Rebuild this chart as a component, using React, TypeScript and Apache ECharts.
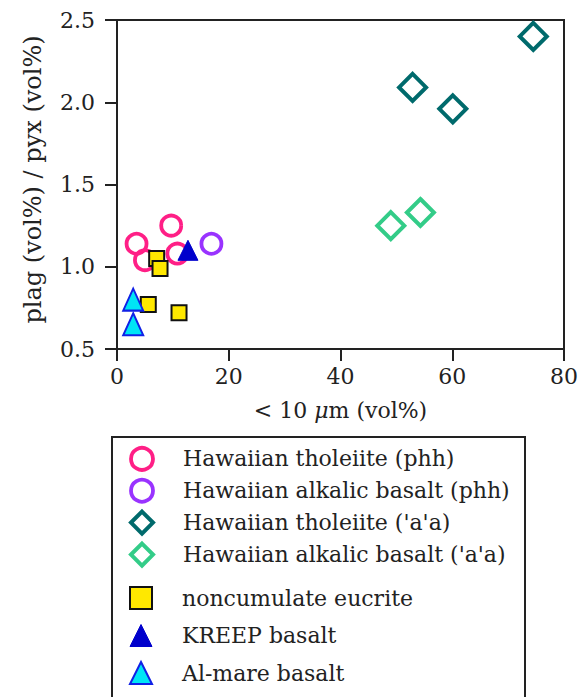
import React, { useEffect, useRef } from "react";
import * as echarts from "echarts";

// ---- data ----
const xTicks = [0, 20, 40, 60, 80];
const yTicks = [0.5, 1.0, 1.5, 2.0, 2.5];
const seriesNames = [
  "Hawaiian tholeiite (phh)",
  "Hawaiian alkalic basalt (phh)",
  "Hawaiian tholeiite ('a'a)",
  "Hawaiian alkalic basalt ('a'a)",
  "noncumulate eucrite",
  "KREEP basalt",
  "Al-mare basalt",
];
const tholeiitePhh = [[3.5, 1.14], [9.7, 1.25], [5.0, 1.04], [10.8, 1.08]];
const alkalicPhh = [[16.9, 1.14]];
const tholeiiteAa = [[74.5, 2.4], [52.9, 2.09], [60.1, 1.96]];
const alkalicAa = [[49.0, 1.25], [54.3, 1.33]];
const eucrite = [[7.1, 1.05], [7.7, 0.99], [5.6, 0.77], [11.1, 0.72]];
const kreep = [[12.7, 1.1]];
const alMare = [[2.9, 0.8], [2.9, 0.65]];

const FONT = "DejaVu Serif";
const TXT = "#222";

const styles = [
  { symbol: "circle", size: 20, color: "rgba(0,0,0,0)", border: "#ff1f86", bw: 3.8 },
  { symbol: "circle", size: 20, color: "rgba(0,0,0,0)", border: "#9933ff", bw: 3.8 },
  { symbol: "diamond", size: 27, color: "rgba(0,0,0,0)", border: "#006a6c", bw: 4 },
  { symbol: "diamond", size: 27, color: "rgba(0,0,0,0)", border: "#33cc88", bw: 4 },
  { symbol: "rect", size: 15, color: "#ffe800", border: "#111", bw: 2 },
  { symbol: "triangle", size: [20, 20], color: "#0000cc", border: "#0000cc", bw: 1 },
  { symbol: "triangle", size: [20, 22], color: "#00e5f5", border: "#1020e6", bw: 2 },
];
const seriesData = [tholeiitePhh, alkalicPhh, tholeiiteAa, alkalicAa, eucrite, kreep, alMare];

export default function App() {
  const ref = useRef<HTMLDivElement>(null);
  useEffect(() => {
    if (!ref.current) return;
    const chart = echarts.init(ref.current, null, { renderer: "svg" });
    const legendData = (names: string[], offset: number) =>
      names.map((n, i) => {
        const s = styles[offset + i];
        return {
          name: n,
          itemStyle: { color: s.color, borderColor: s.border, borderWidth: s.bw, opacity: 1 },
        };
      });
    const legendText = {
      fontFamily: FONT,
      fontSize: 22,
      color: TXT,
      lineHeight: 22,
      padding: [0, 0, 0, 25],
    };
    const option: any = {
      animation: false,
      backgroundColor: "#fff",
      grid: {
        left: 117,
        right: 15,
        top: 20,
        bottom: 348,
        show: true,
        borderColor: "#222",
        borderWidth: 2,
        containLabel: false,
      },
      xAxis: {
        type: "value",
        min: xTicks[0],
        max: xTicks[xTicks.length - 1],
        interval: 20,
        name: "< 10 {i|μ}m (vol%)",
        nameLocation: "middle",
        nameGap: 50,
        nameTextStyle: {
          fontFamily: FONT,
          fontSize: 22,
          color: TXT,
          rich: { i: { fontFamily: FONT, fontSize: 22, fontStyle: "italic", color: TXT } },
        },
        axisLine: { lineStyle: { color: "#222", width: 2 } },
        axisTick: { inside: false, length: 12, lineStyle: { color: "#222", width: 2 } },
        axisLabel: { fontFamily: FONT, fontSize: 22, color: TXT, margin: 16 },
        splitLine: { show: false },
      },
      yAxis: {
        type: "value",
        min: yTicks[0],
        max: yTicks[yTicks.length - 1],
        interval: 0.5,
        name: "plag (vol%) / pyx (vol%)",
        nameLocation: "middle",
        nameGap: 72,
        nameTextStyle: { fontFamily: FONT, fontSize: 24, color: TXT, padding: [0, 0, 0, 10] },
        axisLine: { lineStyle: { color: "#222", width: 2 } },
        axisTick: { inside: false, length: 12, lineStyle: { color: "#222", width: 2 } },
        axisLabel: {
          fontFamily: FONT,
          fontSize: 22,
          color: TXT,
          margin: 22,
          formatter: (v: number) => v.toFixed(1),
        },
        splitLine: { show: false },
      },
      graphic: [
        {
          type: "rect",
          z: -1,
          shape: { x: 112, y: 437, width: 413, height: 300 },
          style: { fill: "#fff", stroke: "#222", lineWidth: 2 },
        },
      ],
      legend: [
        {
          data: legendData(seriesNames.slice(0, 4), 0),
          orient: "vertical",
          left: 129,
          top: 446,
          height: 200,
          padding: 0,
          itemWidth: 22,
          itemHeight: 22,
          itemGap: 6,
          selectedMode: false,
          textStyle: legendText,
        },
        {
          data: legendData(seriesNames.slice(4), 4),
          orient: "vertical",
          left: 129,
          top: 586,
          height: 200,
          padding: 0,
          itemWidth: 22,
          itemHeight: 22,
          itemGap: 14,
          selectedMode: false,
          textStyle: legendText,
        },
      ],
      series: seriesNames.map((n, i) => ({
        name: n,
        type: "scatter",
        data: seriesData[i],
        symbol: styles[i].symbol,
        symbolSize: styles[i].size,
        itemStyle: {
          color: styles[i].color,
          borderColor: styles[i].border,
          borderWidth: styles[i].bw,
          opacity: 1,
        },
      })),
    };
    chart.setOption(option);
    return () => chart.dispose();
  }, []);
  return (
    <div
      ref={ref}
      style={{ position: "fixed", left: 0, top: 0, width: 581, height: 697, background: "#fff" }}
    />
  );
}
